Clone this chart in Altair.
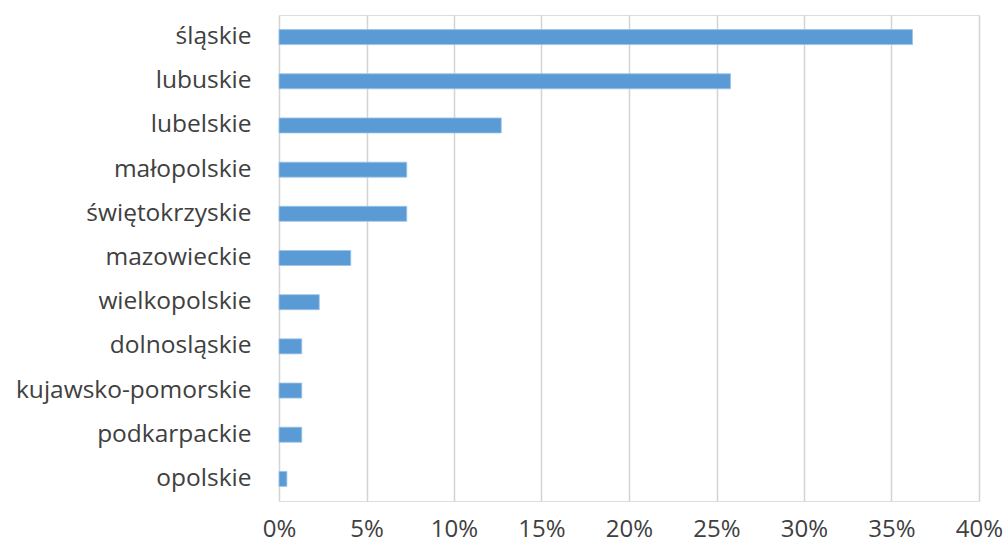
import altair as alt
import pandas as pd

regions = ["śląskie", "lubuskie", "lubelskie", "małopolskie", "świętokrzyskie",
           "mazowieckie", "wielkopolskie", "dolnosląskie", "kujawsko-pomorskie",
           "podkarpackie", "opolskie"]
shares = [0.362, 0.258, 0.127, 0.073, 0.073, 0.041, 0.023, 0.013, 0.013, 0.013, 0.0045]
x_ticks = [0, 0.05, 0.10, 0.15, 0.20, 0.25, 0.30, 0.35, 0.40]

df = pd.DataFrame({"region": regions, "share": shares})

chart = alt.Chart(df).mark_bar(
    color="#5B9BD5", stroke="#9DC3E6", strokeWidth=0.8
).encode(
    x=alt.X("share:Q",
            scale=alt.Scale(domain=[0, 0.40], nice=False),
            axis=alt.Axis(values=x_ticks, format=".0%", title=None,
                          grid=True, gridColor="#D4D4D4", gridWidth=1.5,
                          domain=False, ticks=False, labelPadding=16,
                          labelFlush=False, labelOverlap=False,
                          labelFontSize=24, labelColor="#404040",
                          labelFont="Open Sans")),
    y=alt.Y("region:N", sort=regions,
            scale=alt.Scale(paddingInner=0.66, paddingOuter=0.33),
            axis=alt.Axis(title=None, ticks=False, domain=False, labelPadding=28,
                          labelFontSize=24.5, labelColor="#404040",
                          labelFont="Open Sans", labelLimit=400)),
).properties(
    width=700, height=486,
    padding={"left": 279, "top": 15, "right": 29, "bottom": 50},
    autosize=alt.AutoSizeParams(type="none"),
).configure_view(stroke=None).configure(background="white")

chart.save("out.html", embed_options={"renderer": "svg", "actions": False})
